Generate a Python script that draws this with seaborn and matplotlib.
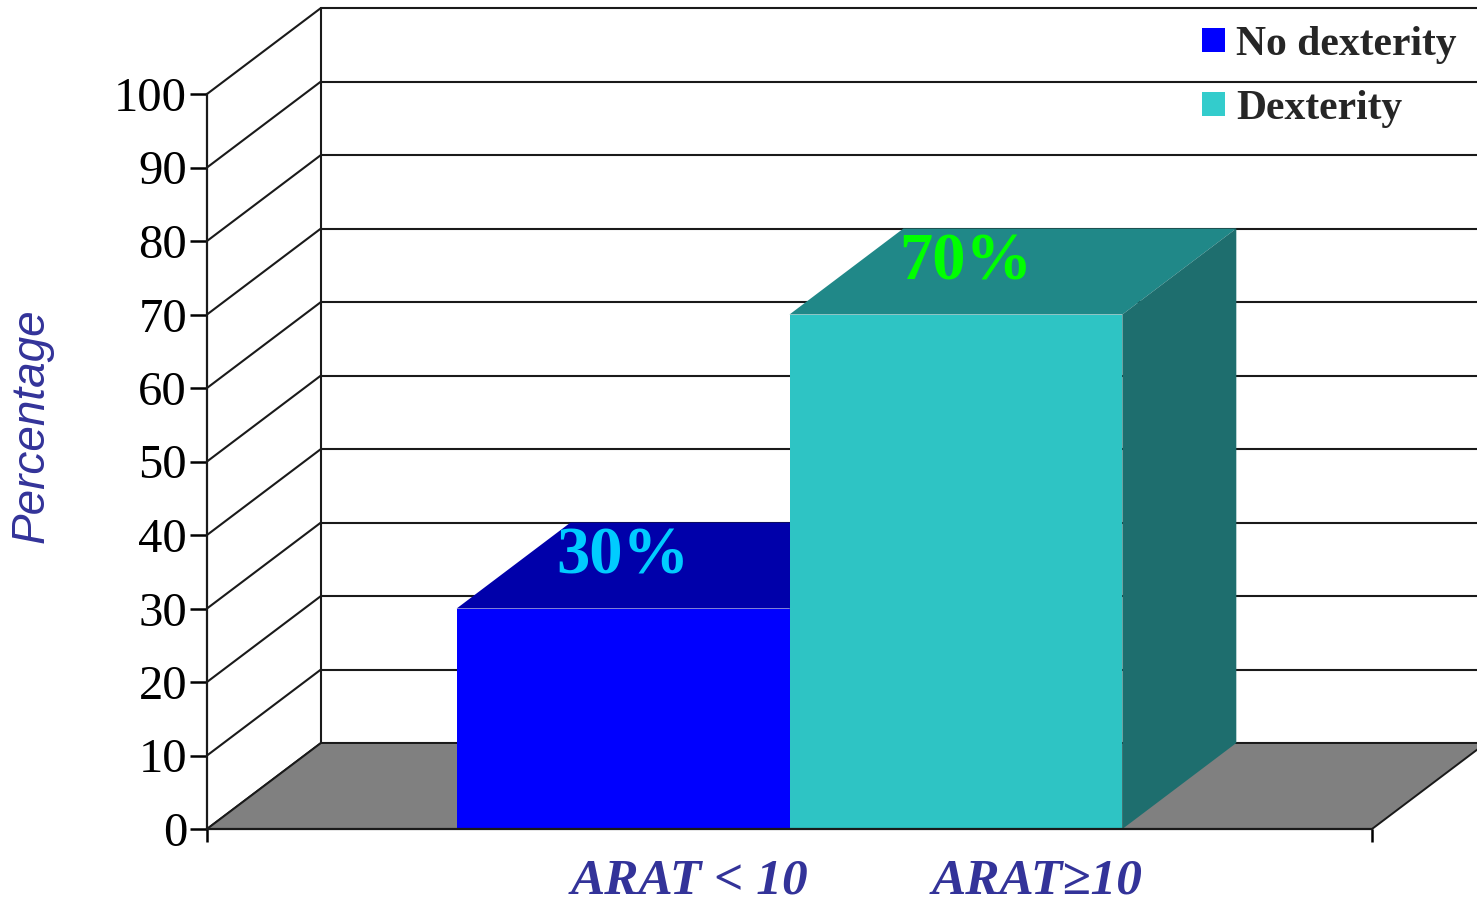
import matplotlib
matplotlib.use("Agg")
import matplotlib.pyplot as plt
from matplotlib.patches import Patch, Polygon
import pandas as pd
import seaborn as sns

groups = ["ARAT < 10", "ARAT≥10"]
series_names = ["No dexterity", "Dexterity"]
percentages = [30, 70]
y_ticks = [0, 10, 20, 30, 40, 50, 60, 70, 80, 90, 100]

FRONT_COLORS = ["#0000FF", "#2EC4C4"]
TOP_COLORS = ["#0000AA", "#208888"]
SIDE_COLORS = ["#00007F", "#1E6E6E"]
LEGEND_COLORS = ["#0000FF", "#33CCCC"]
LABEL_COLORS = ["#00CCFF", "#00FF00"]
INK = "#1a1a1a"
NAVY = "#333399"

sns.set_style("white")
plt.rcParams["font.family"] = ["Liberation Serif", "DejaVu Serif"]

W, H = 1477, 906
fig = plt.figure(figsize=(W / 100, H / 100), dpi=100)
ax = fig.add_axes([207 / W, 1 - 829 / H, (1372 - 207) / W, (829 - 94) / H])

table = pd.DataFrame({"group": groups, "value": percentages, "series": series_names})
sns.barplot(data=table, x="group", y="value", hue="series", hue_order=series_names,
            palette=FRONT_COLORS, saturation=1, width=1, dodge=False, legend=False,
            linewidth=0, ax=ax)

xmin, xmax = -1.25, 2.25
ax.set_xlim(xmin, xmax)
ax.set_ylim(0, 100)

# Oblique depth of the box, in data units
DX, DY = 114 / 333, 86 / 7.35

for i, bar in enumerate(p for p in ax.patches if p.get_height() > 0):
    bar.set_zorder(5 + i)
    x0, x1, v = bar.get_x(), bar.get_x() + bar.get_width(), bar.get_height()
    ax.add_patch(Polygon([(x0, v), (x0 + DX, v + DY), (x1 + DX, v + DY), (x1, v)],
                         closed=True, fc=TOP_COLORS[i], ec="none", zorder=3 + i, clip_on=False))
    ax.add_patch(Polygon([(x1, 0), (x1 + DX, DY), (x1 + DX, v + DY), (x1, v)],
                         closed=True, fc=SIDE_COLORS[i], ec="none", zorder=3 + i, clip_on=False))

# Floor
ax.add_patch(Polygon([(xmin, 0), (xmin + DX, DY), (xmax + DX, DY), (xmax, 0)],
                     closed=True, fc="#808080", ec=INK, lw=1.4, zorder=1.5, clip_on=False))

# Side and back walls
for t in y_ticks:
    ax.plot([xmin, xmin + DX], [t, t + DY], color=INK, lw=1.5, zorder=1, clip_on=False)
    ax.plot([xmin + DX, xmax + DX], [t + DY, t + DY], color=INK, lw=1.5, zorder=1, clip_on=False)
ax.plot([xmin + DX, xmin + DX], [DY, 100 + DY], color=INK, lw=1.5, zorder=1, clip_on=False)

# Axes
for side in ("top", "right"):
    ax.spines[side].set_visible(False)
for side in ("left", "bottom"):
    ax.spines[side].set_linewidth(1.6)
    ax.spines[side].set_color(INK)
    ax.spines[side].set_zorder(8)
ax.set_yticks(y_ticks)
ax.set_xticks([xmin, xmax], ["", ""])
ax.tick_params(axis="y", length=12, width=1.8, color="black", left=True, pad=20 / 1.39 - 12,
               labelsize=35, labelcolor="black")
ax.tick_params(axis="x", length=9, width=1.8, color="black", bottom=True)
ax.set_xlabel("")
ax.set_ylabel("")

fig.text(32 / W, 1 - 426 / H, "Percentage", rotation=90, ha="center", va="center",
         family="Liberation Sans", style="italic", color=NAVY, fontsize=33)

# Category captions under the floor
caption_x = [690, 1037]
for name, cx in zip(groups, caption_x):
    fig.text(cx / W, 1 - 882 / H, name, ha="center", va="center", style="italic",
             weight="bold", color=NAVY, fontsize=37)

# Value labels on the bar tops
for i, v in enumerate(percentages):
    ax.text(i + 0.03 * i, v + 7, f"{v}%", ha="center", va="center", color=LABEL_COLORS[i],
            weight="bold", fontsize=48, zorder=10)

handles = [Patch(fc=c, ec="none") for c in LEGEND_COLORS]
fig.legend(handles, series_names, loc="upper left", bbox_to_anchor=(1202 / W, 1 - 26 / H),
           borderaxespad=0, borderpad=0, frameon=False, prop={"weight": "bold", "size": 30},
           handlelength=0.55, handleheight=0.5, handletextpad=0.27, labelspacing=0.62)

fig.savefig("out.png", dpi=100)
